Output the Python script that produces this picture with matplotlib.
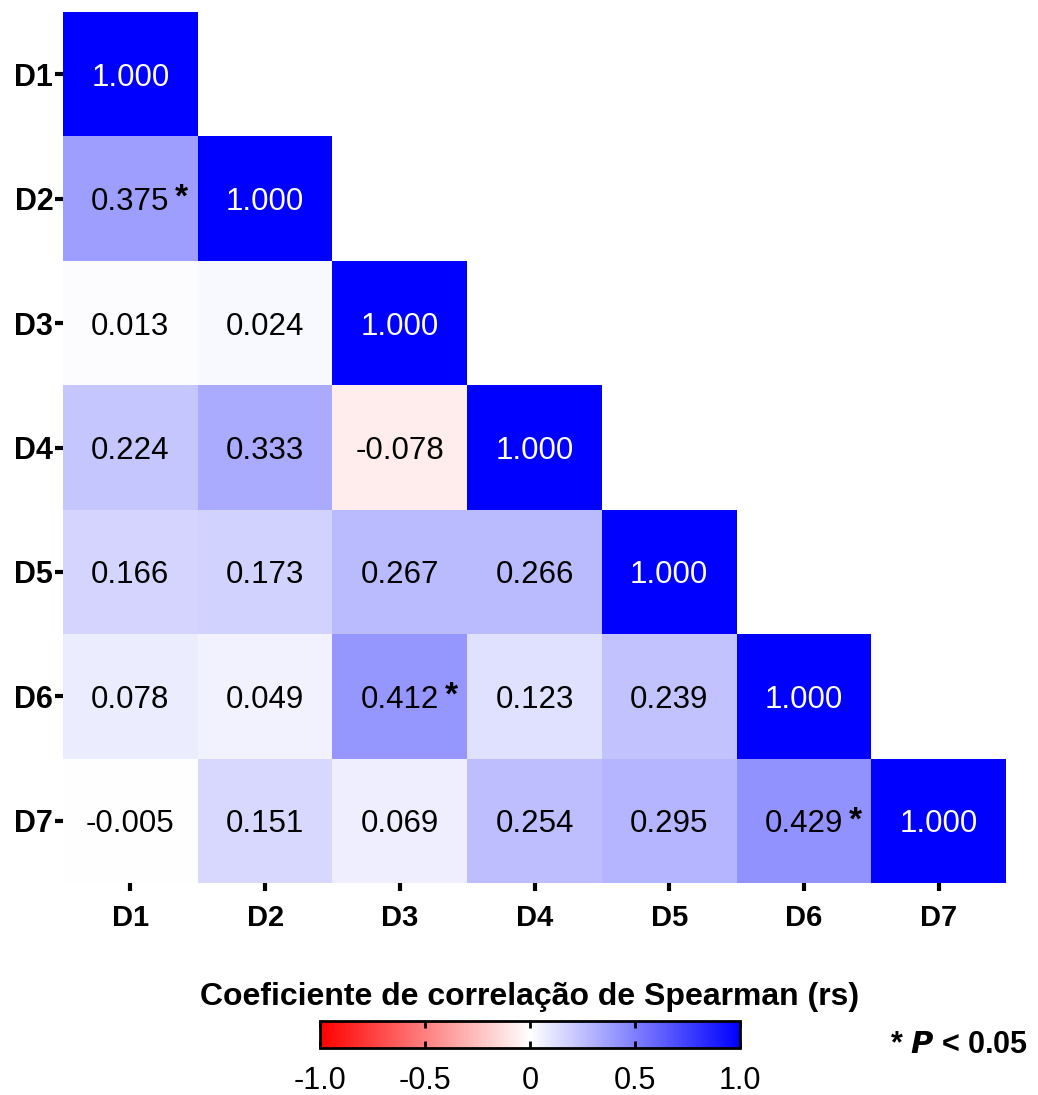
import numpy as np
import matplotlib
matplotlib.use("Agg")
import matplotlib.pyplot as plt
from matplotlib.colors import LinearSegmentedColormap

plt.rcParams['font.family'] = ['Liberation Sans', 'DejaVu Sans']

# variables
labels = ['D1', 'D2', 'D3', 'D4', 'D5', 'D6', 'D7']

# Spearman correlations (lower triangle, row by row)
rows = [
    [1.000],
    [0.375, 1.000],
    [0.013, 0.024, 1.000],
    [0.224, 0.333, -0.078, 1.000],
    [0.166, 0.173, 0.267, 0.266, 1.000],
    [0.078, 0.049, 0.412, 0.123, 0.239, 1.000],
    [-0.005, 0.151, 0.069, 0.254, 0.295, 0.429, 1.000],
]

# significant pairs (row, col), P < 0.05
signif = [(1, 0), (5, 2), (6, 5)]

n = len(labels)
mat = np.full((n, n), np.nan)
for i, r in enumerate(rows):
    mat[i, :len(r)] = r
data = np.ma.masked_invalid(mat)

cmap = LinearSegmentedColormap.from_list('rwb', ['#ff0000', '#ffffff', '#0000ff'])

fig = plt.figure(figsize=(10.38, 10.95), dpi=100)
ax = fig.add_axes([0.0607, 0.1936, 0.9085, 0.7954])

im = ax.pcolormesh(np.arange(n + 1) - 0.5, np.arange(n + 1) - 0.5, data,
                   cmap=cmap, vmin=-1, vmax=1)
ax.set_xlim(-0.5, n - 0.5)
ax.set_ylim(n - 0.5, -0.5)

for i in range(n):
    for j in range(i + 1):
        v = mat[i, j]
        col = 'white' if v >= 0.99 else 'black'
        ax.text(j, i, f'{v:.3f}', ha='center', va='center_baseline', fontsize=22.5, color=col)
        if (i, j) in signif:
            ax.text(j + 0.38, i - 0.03, '*', ha='center', va='center_baseline', fontsize=24,
                    fontweight='bold', color='black')

for s in ax.spines.values():
    s.set_visible(False)

ax.set_xticks(range(n))
ax.set_yticks(range(n))
ax.set_xticklabels(labels, fontsize=21, fontweight='bold')
ax.set_yticklabels(labels, fontsize=22, fontweight='bold')
ax.tick_params(axis='both', length=6, width=3, pad=1)
ax.tick_params(axis='x', pad=9)

# colorbar
cax = fig.add_axes([0.3083, 0.0429, 0.4046, 0.0247])
cb = fig.colorbar(im, cax=cax, orientation='horizontal')
cb.set_ticks([-1.0, -0.5, 0, 0.5, 1.0])
cb.set_ticklabels(['-1.0', '-0.5', '0', '0.5', '1.0'])
cb.outline.set_linewidth(2)
cax.tick_params(axis='x', direction='in', length=5, width=2, top=True, bottom=True,
                labelsize=22, pad=13)

fig.text(0.5106, 0.0895, 'Coeficiente de correlação de Spearman (rs)', ha='center', va='center',
         fontsize=23, fontweight='bold')
fig.text(0.857, 0.0455, '* $\\boldsymbol{P}$ < 0.05', ha='left', va='center', fontsize=22,
         fontweight='bold')

fig.savefig('out.png', dpi=100)
